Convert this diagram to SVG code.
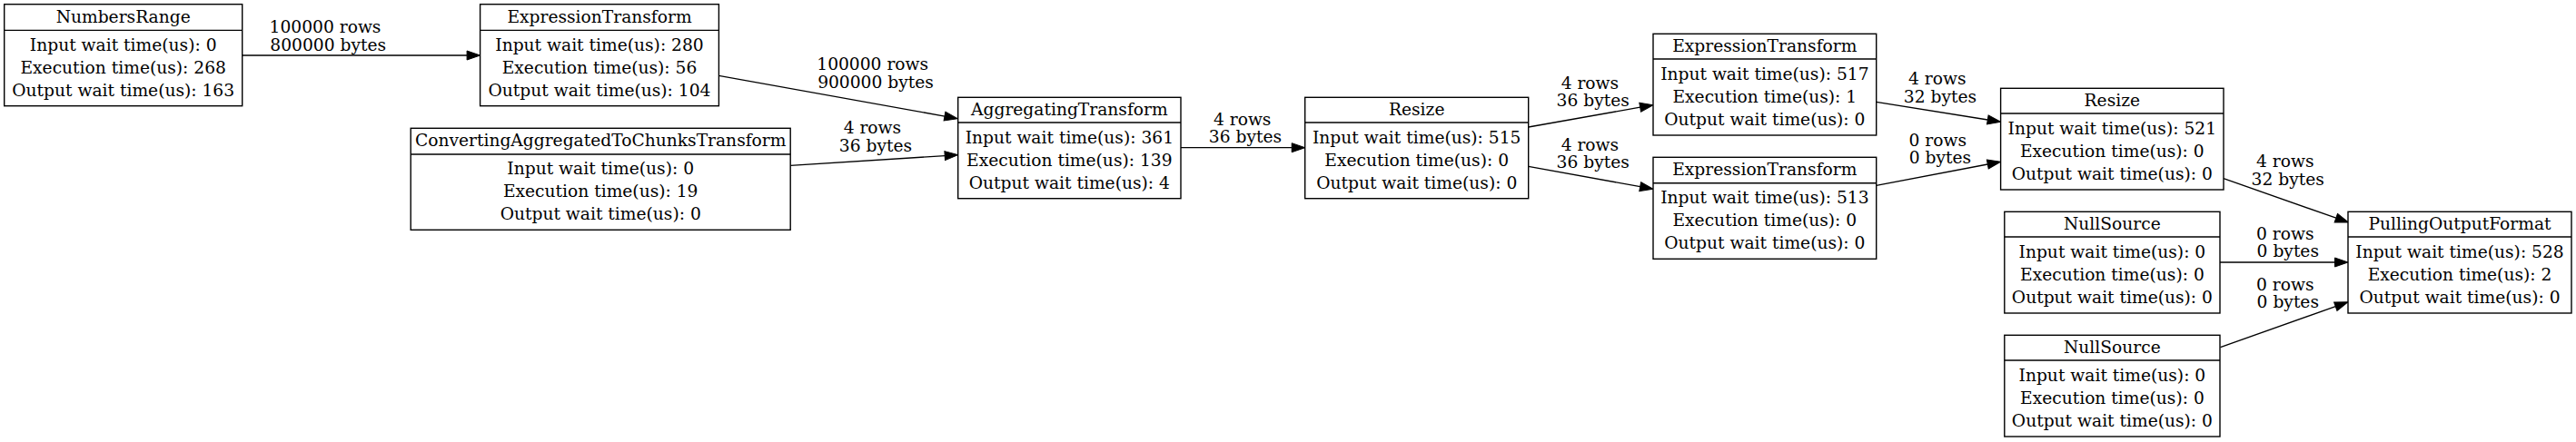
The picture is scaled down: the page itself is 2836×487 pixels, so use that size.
<svg xmlns="http://www.w3.org/2000/svg" width="2836" height="487" viewBox="0 0 2836 487">
<style>
.box{fill:#fff;stroke:#000;stroke-width:1.4}
.div{stroke:#000;stroke-width:1.4}
text{font-family:"DejaVu Serif","Liberation Serif",serif;font-size:18.67px;fill:#000;text-anchor:middle}
.e{fill:none;stroke:#000;stroke-width:1.3}
</style>
<defs>
<marker id="ah" markerUnits="userSpaceOnUse" markerWidth="16" markerHeight="12" refX="0" refY="6" orient="auto" overflow="visible">
<path d="M0,1 L14.5,6 L0,11 z" fill="#000" stroke="#000" stroke-width="1"/>
</marker>
</defs>
<rect width="2836" height="487" fill="#fff"/>
<g id="connectors">
<path class="e" d="M266.7,61 L514.1,61" marker-end="url(#ah)"/>
<path class="e" d="M791.4,83.3 L1040,128.1" marker-end="url(#ah)"/>
<path class="e" d="M870.2,182.3 L1040.2,171.6" marker-end="url(#ah)"/>
<path class="e" d="M1300,162.7 L1422.2,162.7" marker-end="url(#ah)"/>
<path class="e" d="M1682.7,140 L1805.7,118.2" marker-end="url(#ah)"/>
<path class="e" d="M1682.7,183.3 L1805.7,205.7" marker-end="url(#ah)"/>
<path class="e" d="M2065.7,112.3 L2188.3,132" marker-end="url(#ah)"/>
<path class="e" d="M2065.7,204.3 L2188.3,181" marker-end="url(#ah)"/>
<path class="e" d="M2448,196.7 L2571.8,240.2" marker-end="url(#ah)"/>
<path class="e" d="M2444,289 L2570.5,289" marker-end="url(#ah)"/>
<path class="e" d="M2444.5,382.7 L2571.3,337.6" marker-end="url(#ah)"/>
<text x="358" y="36">100000 rows</text><text x="361.2" y="55.5">800000 bytes</text>
<text x="960.7" y="77.3">100000 rows</text><text x="964" y="96.8">900000 bytes</text>
<text x="960.4" y="147.3">4 rows</text><text x="963.9" y="166.8">36 bytes</text>
<text x="1367.7" y="137.7">4 rows</text><text x="1371" y="157.2">36 bytes</text>
<text x="1750.4" y="97.7">4 rows</text><text x="1753.7" y="117.2">36 bytes</text>
<text x="1750.4" y="165.7">4 rows</text><text x="1753.7" y="185.2">36 bytes</text>
<text x="2132.8" y="93.3">4 rows</text><text x="2135.9" y="112.8">32 bytes</text>
<text x="2133.3" y="160.5">0 rows</text><text x="2136" y="180">0 bytes</text>
<text x="2515.8" y="184">4 rows</text><text x="2518.7" y="203.5">32 bytes</text>
<text x="2515.8" y="263.8">0 rows</text><text x="2518.8" y="283.3">0 bytes</text>
<text x="2515.8" y="319.8">0 rows</text><text x="2518.8" y="339.3">0 bytes</text>
</g>
<g id="numbersrange">
<rect class="box" x="4.7" y="4.7" width="262" height="112"/><path class="div" d="M4.7,33.4 H266.7"/>
<text x="135.7" y="24.7">NumbersRange</text>
<text x="135.7" y="55.7">Input wait time(us): 0</text>
<text x="135.7" y="80.7">Execution time(us): 268</text>
<text x="135.7" y="105.7">Output wait time(us): 163</text>
</g>
<g id="expression1">
<rect class="box" x="528.6" y="4.7" width="262.8" height="112"/><path class="div" d="M528.6,33.4 H791.4"/>
<text x="660" y="24.7">ExpressionTransform</text>
<text x="660" y="55.7">Input wait time(us): 280</text>
<text x="660" y="80.7">Execution time(us): 56</text>
<text x="660" y="105.7">Output wait time(us): 104</text>
</g>
<g id="converting">
<rect class="box" x="452.2" y="141.3" width="418" height="112"/><path class="div" d="M452.2,170 H870.2"/>
<text x="661.2" y="161.3">ConvertingAggregatedToChunksTransform</text>
<text x="661.2" y="192.3">Input wait time(us): 0</text>
<text x="661.2" y="217.3">Execution time(us): 19</text>
<text x="661.2" y="242.3">Output wait time(us): 0</text>
</g>
<g id="aggregating">
<rect class="box" x="1054.7" y="107.3" width="245.3" height="111.4"/><path class="div" d="M1054.7,135 H1300"/>
<text x="1177.35" y="127">AggregatingTransform</text>
<text x="1177.35" y="158">Input wait time(us): 361</text>
<text x="1177.35" y="183">Execution time(us): 139</text>
<text x="1177.35" y="208">Output wait time(us): 4</text>
</g>
<g id="resize1">
<rect class="box" x="1436.7" y="107.3" width="246" height="111.4"/><path class="div" d="M1436.7,135 H1682.7"/>
<text x="1559.7" y="127">Resize</text>
<text x="1559.7" y="158">Input wait time(us): 515</text>
<text x="1559.7" y="183">Execution time(us): 0</text>
<text x="1559.7" y="208">Output wait time(us): 0</text>
</g>
<g id="expression2">
<rect class="box" x="1820" y="37.3" width="245.7" height="111.7"/><path class="div" d="M1820,65 H2065.7"/>
<text x="1942.85" y="57">ExpressionTransform</text>
<text x="1942.85" y="88">Input wait time(us): 517</text>
<text x="1942.85" y="113">Execution time(us): 1</text>
<text x="1942.85" y="138">Output wait time(us): 0</text>
</g>
<g id="expression3">
<rect class="box" x="1820" y="173.3" width="245.7" height="112"/><path class="div" d="M1820,201.7 H2065.7"/>
<text x="1942.85" y="193.3">ExpressionTransform</text>
<text x="1942.85" y="224.3">Input wait time(us): 513</text>
<text x="1942.85" y="249.3">Execution time(us): 0</text>
<text x="1942.85" y="274.3">Output wait time(us): 0</text>
</g>
<g id="resize2">
<rect class="box" x="2202.6" y="97.3" width="245.4" height="111.7"/><path class="div" d="M2202.6,125 H2448"/>
<text x="2325.3" y="117">Resize</text>
<text x="2325.3" y="148">Input wait time(us): 521</text>
<text x="2325.3" y="173">Execution time(us): 0</text>
<text x="2325.3" y="198">Output wait time(us): 0</text>
</g>
<g id="nullsource1">
<rect class="box" x="2206.8" y="233.3" width="237.2" height="111.7"/><path class="div" d="M2206.8,261 H2444"/>
<text x="2325.4" y="253">NullSource</text>
<text x="2325.4" y="284">Input wait time(us): 0</text>
<text x="2325.4" y="309">Execution time(us): 0</text>
<text x="2325.4" y="334">Output wait time(us): 0</text>
</g>
<g id="nullsource2">
<rect class="box" x="2206.8" y="369.3" width="237.2" height="111.7"/><path class="div" d="M2206.8,397 H2444"/>
<text x="2325.4" y="389">NullSource</text>
<text x="2325.4" y="420">Input wait time(us): 0</text>
<text x="2325.4" y="445">Execution time(us): 0</text>
<text x="2325.4" y="470">Output wait time(us): 0</text>
</g>
<g id="pulling">
<rect class="box" x="2585" y="233.3" width="246" height="111.7"/><path class="div" d="M2585,261 H2831"/>
<text x="2708" y="253">PullingOutputFormat</text>
<text x="2708" y="284">Input wait time(us): 528</text>
<text x="2708" y="309">Execution time(us): 2</text>
<text x="2708" y="334">Output wait time(us): 0</text>
</g>
</svg>
